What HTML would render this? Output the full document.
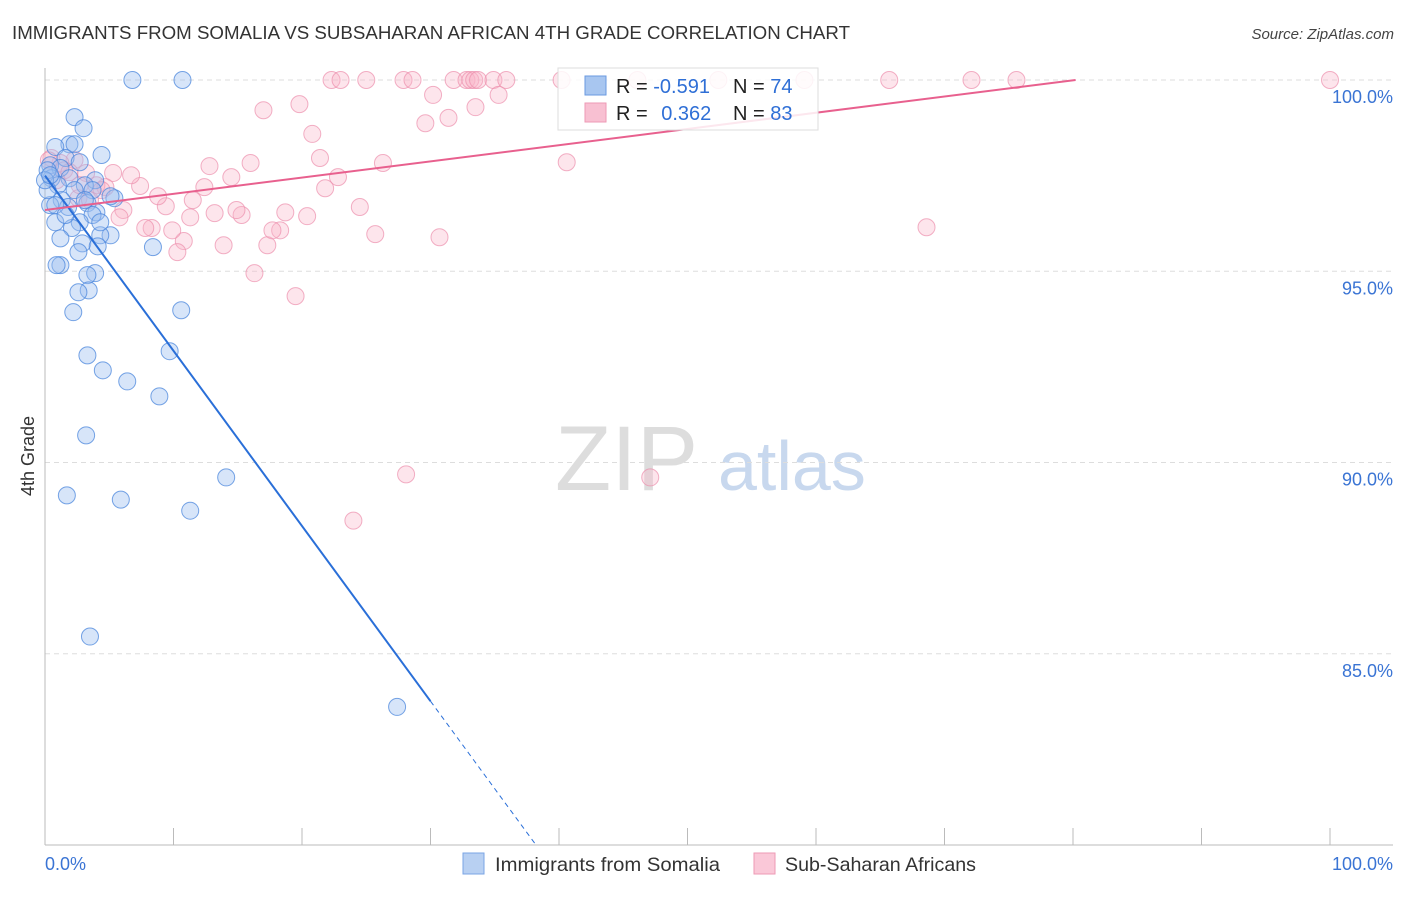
<!DOCTYPE html>
<html><head><meta charset="utf-8"><style>
body{margin:0;background:#fff;font-family:"Liberation Sans",sans-serif}
svg text{font-family:"Liberation Sans",sans-serif}
</style></head><body>
<svg id="chart" width="1406" height="892" xmlns="http://www.w3.org/2000/svg">
<text x="12" y="39" font-size="18" fill="#333" textLength="838" lengthAdjust="spacingAndGlyphs">IMMIGRANTS FROM SOMALIA VS SUBSAHARAN AFRICAN 4TH GRADE CORRELATION CHART</text>
<text x="1394" y="39" font-size="15" fill="#444" text-anchor="end" font-style="italic">Source: ZipAtlas.com</text>
<text transform="translate(34,456) rotate(-90)" font-size="18" fill="#333" text-anchor="middle">4th Grade</text>
<g>
<text x="555" y="490" font-size="92" fill="#ddd" font-family="Liberation Serif">ZIP</text>
<text x="718" y="490" font-size="70" fill="#c8d8ee">atlas</text>
</g>
<g id="grid"></g><g id="axes"></g><g id="pts"></g><g id="lines"></g>
<g>
<rect x="558" y="68" width="260" height="62" fill="#fff" fill-opacity="0.85" stroke="#ddd"/>
<rect x="585" y="76" width="21" height="19" fill="#a8c6f0" stroke="#6a9ae0"/>
<rect x="585" y="103" width="21" height="19" fill="#f8c0d2" stroke="#ee9ab5"/>
<text x="616" y="93" font-size="20" fill="#222">R = <tspan fill="#2f6fd6">-0.591</tspan></text>
<text x="733" y="93" font-size="20" fill="#222">N = <tspan fill="#2f6fd6">74</tspan></text>
<text x="616" y="120" font-size="20" fill="#222">R = <tspan fill="#2f6fd6" dx="8">0.362</tspan></text>
<text x="733" y="120" font-size="20" fill="#222">N = <tspan fill="#2f6fd6">83</tspan></text>
</g>
<g>
<rect x="463" y="853" width="21" height="21" fill="#b8d0f2" stroke="#7aa4e4"/>
<text x="495" y="871" font-size="19.5" fill="#333" textLength="225" lengthAdjust="spacingAndGlyphs">Immigrants from Somalia</text>
<rect x="754" y="853" width="21" height="21" fill="#fac8d8" stroke="#ee9ab5"/>
<text x="785" y="871" font-size="19.5" fill="#333" textLength="191" lengthAdjust="spacingAndGlyphs">Sub-Saharan Africans</text>
</g>
</svg>
<script>
const blueX=[6.8,10.7,2.3,3.0,1.9,2.3,0.8,4.4,1.6,2.7,0.4,1.2,0.5,1.9,3.9,1.0,3.1,2.3,3.7,5.4,1.3,3.3,0.4,1.8,4.0,3.7,2.7,0.8,2.1,5.1,4.3,1.2,2.9,4.1,8.4,2.6,1.2,0.9,3.9,3.3,3.4,2.6,2.2,10.6,3.3,9.7,4.5,6.4,8.9,3.2,14.1,1.7,5.9,11.3,3.5,27.4,0.2,0.2,0.8,1.6,0.0,4.3,0.4,3.1,5.1];
const blueY=[100,100,99.03,98.74,98.32,98.32,98.25,98.04,97.96,97.85,97.77,97.70,97.43,97.43,97.38,97.25,97.25,97.12,97.12,96.91,96.86,96.78,96.73,96.68,96.54,96.47,96.28,96.28,96.13,95.94,95.94,95.86,95.73,95.65,95.63,95.50,95.16,95.16,94.95,94.90,94.50,94.45,93.93,93.98,92.80,92.91,92.41,92.12,91.73,90.71,89.61,89.14,89.03,88.74,85.45,83.61,97.64,97.12,96.73,96.47,97.38,96.28,97.51,96.86,96.96];
const pinkX=[22.3,23.0,25.0,27.9,28.6,31.8,32.8,33.1,33.4,33.7,34.9,35.9,40.2,46.1,52.4,59.1,65.7,72.1,75.6,100,17.0,19.8,20.8,30.2,31.4,29.6,33.5,35.3,21.4,26.3,22.8,21.8,24.5,25.7,30.7,40.6,68.6,28.1,47.1,24.0,19.5,16.3,17.3,18.3,17.7,18.7,20.4,15.3,14.9,13.9,13.2,12.8,16.0,14.5,12.4,11.5,10.8,10.3,9.4,9.9,8.8,8.3,7.4,6.7,6.1,5.8,5.3,4.7,4.0,3.2,2.3,1.2,0.5,1.5,1.9,0.9,2.6,3.5,2.7,4.4,7.8,11.3,0.3];
const pinkY=[100,100,100,100,100,100,100,100,100,100,100,100,100,100,100,100,100,100,100,100,99.21,99.37,98.59,99.61,99.01,98.87,99.29,99.61,97.96,97.83,97.46,97.17,96.68,95.97,95.89,97.85,96.15,89.69,89.61,88.48,94.35,94.95,95.68,96.07,96.07,96.54,96.44,96.47,96.60,95.68,96.52,97.75,97.83,97.46,97.20,96.86,95.79,95.50,96.70,96.07,96.96,96.13,97.23,97.51,96.60,96.41,97.57,97.20,97.25,97.57,97.91,97.83,97.96,97.64,97.59,97.38,96.91,96.86,97.25,97.12,96.13,96.41,97.90];
const yTicks=[100,95,90,85];
const yTickLabels=["100.0%","95.0%","90.0%","85.0%"];
const xTicks=[0,10,20,30,40,50,60,70,80,90,100];
const blueFit=[97.5,-0.458,0,30,38.2];
const pinkFit=[96.6,0.0424,0,80.2];
const sx=v=>45+v*12.85, sy=v=>80+(100-v)*38.25;
const NS="http://www.w3.org/2000/svg";
function mk(p,t,a){const e=document.createElementNS(NS,t);for(const k in a)e.setAttribute(k,a[k]);p.appendChild(e);return e;}
const grid=document.getElementById('grid'),axes=document.getElementById('axes'),pts=document.getElementById('pts'),lines=document.getElementById('lines');
yTicks.forEach((v,i)=>{
 const l=mk(grid,'line',{x1:45,x2:1393,y1:sy(v),y2:sy(v),stroke:'#ddd','stroke-dasharray':'5,4'});
 
 
 const t=mk(axes,'text',{x:1393,y:sy(v)+23,'font-size':18,fill:'#3a74d4','text-anchor':'end'});
 t.textContent=yTickLabels[i];
 
 
});
const ya=mk(axes,'line',{x1:45,x2:45,y1:68,y2:845,stroke:'#bbb'});


const xa=mk(axes,'line',{x1:45,x2:1393,y1:845,y2:845,stroke:'#bbb'});


xTicks.forEach(v=>{
 const t=mk(axes,'line',{x1:sx(v),x2:sx(v),y1:828,y2:845,stroke:'#bbb'});
 
 
});
const xl0=mk(axes,'text',{x:45,y:870,'font-size':18,fill:'#3a74d4'});xl0.textContent='0.0%';


const xl1=mk(axes,'text',{x:1393,y:870,'font-size':18,fill:'#3a74d4','text-anchor':'end'});xl1.textContent='100.0%';


pinkX.forEach((x,i)=>{
 const c=mk(pts,'circle',{cx:sx(x),cy:sy(pinkY[i]),r:8.5,fill:'#f8b4c9','fill-opacity':0.35,stroke:'#ec8fad','stroke-opacity':0.7});
 
 
});
blueX.forEach((x,i)=>{
 const c=mk(pts,'circle',{cx:sx(x),cy:sy(blueY[i]),r:8.5,fill:'#9cbef0','fill-opacity':0.4,stroke:'#4a86dc','stroke-opacity':0.75});
 
 
});
const bf=x=>blueFit[0]+blueFit[1]*x, pf=x=>pinkFit[0]+pinkFit[1]*x;
const bl=mk(lines,'line',{x1:sx(blueFit[2]),y1:sy(bf(blueFit[2])),x2:sx(blueFit[3]),y2:sy(bf(blueFit[3])),stroke:'#2a6fd8','stroke-width':2});


const bd=mk(lines,'line',{x1:sx(blueFit[3]),y1:sy(bf(blueFit[3])),x2:sx(blueFit[4]),y2:sy(bf(blueFit[4])),stroke:'#2a6fd8','stroke-width':1,'stroke-dasharray':'5,4'});


const pl=mk(lines,'line',{x1:sx(pinkFit[2]),y1:sy(pf(pinkFit[2])),x2:sx(pinkFit[3]),y2:sy(pf(pinkFit[3])),stroke:'#e8608e','stroke-width':2});


</script>
</body></html>
